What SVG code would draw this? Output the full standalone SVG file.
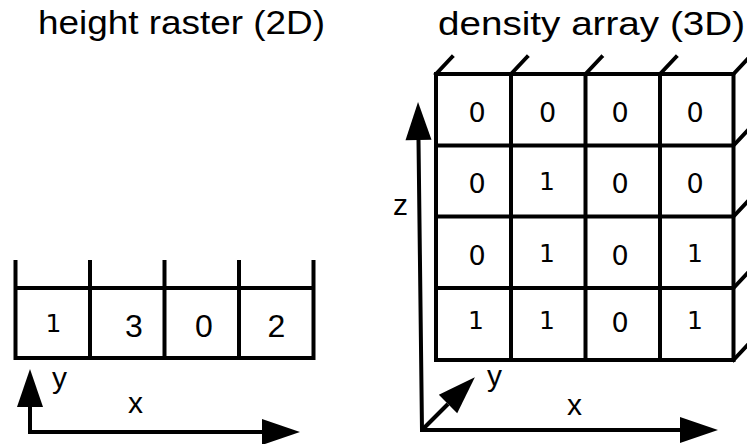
<svg xmlns="http://www.w3.org/2000/svg" width="747" height="444" viewBox="0 0 747 444">
  <style>
    .grid { fill: none; stroke: #000; stroke-width: 4; stroke-linecap: square; }
    .axis { fill: none; stroke: #000; stroke-width: 4; stroke-linejoin: miter; }
    .title { font-family: "Liberation Sans", Arial, sans-serif; font-size: 33px; fill: #000; }
    .lbl { font-family: "Liberation Sans", Arial, sans-serif; font-size: 30px; fill: #000; }
    .num { font-family: "Liberation Sans", Arial, sans-serif; font-size: 32px; fill: #000; text-anchor: middle; }
    .cell { font-family: "DejaVu Sans", sans-serif; font-size: 27px; fill: #000; text-anchor: middle; }
    .one { font-family: "DejaVu Sans", sans-serif; font-size: 25px; fill: #000; text-anchor: middle; }
  </style>
  <defs>
    <marker id="head" markerUnits="userSpaceOnUse" markerWidth="40" markerHeight="28" refX="0" refY="0" viewBox="0 -14 40 28" orient="auto-start-reverse" overflow="visible">
      <path d="M0,-13 L38,0 L0,13 Z" fill="#000"/>
    </marker>
  </defs>
  <rect width="747" height="444" fill="#fff"/>

  <!-- 2D height raster -->
  <g id="height-raster">
    <text class="title" x="38" y="34" textLength="287" lengthAdjust="spacingAndGlyphs">height raster (2D)</text>
    <path class="grid" d="M15.5,262 V358 M90,262 V358 M164.5,262 V358 M239,262 V358 M313.5,262 V358 M15.5,288 H313.5 M15.5,358 H313.5"/>
    <text class="one" x="53.5" y="332">1</text>
    <text class="num" x="134" y="336.5">3</text>
    <text class="num" x="204" y="336.5">0</text>
    <text class="num" x="276.5" y="336.5">2</text>
  </g>

  <!-- 3D density array: front face with receding edges -->
  <g id="density-array">
    <text class="title" x="438" y="35" textLength="307" lengthAdjust="spacingAndGlyphs">density array (3D)</text>
    <path class="grid" d="M436,74 V360 M511,74 V360 M585.5,74 V360 M660,74 V360 M733.5,74 V360 M436,74 H733.5 M436,145.5 H733.5 M436,216.5 H733.5 M436,288 H733.5 M436,360 H733.5"/>
    <path class="grid" stroke-linecap="butt" d="M436,74 l16,-17 M511,74 l16,-17 M585.5,74 l16,-17 M660,74 l16,-17 M733.5,74 l16,-17 M733.5,145.5 l16,-17 M733.5,216.5 l16,-17 M733.5,288 l16,-17 M733.5,360 l16,-17"/>
    <text class="cell" x="477" y="121.5">0</text>
    <text class="cell" x="547.5" y="121.5">0</text>
    <text class="cell" x="620" y="121.5">0</text>
    <text class="cell" x="695" y="121.5">0</text>
    <text class="cell" x="477" y="193">0</text>
    <text class="one" x="547" y="190">1</text>
    <text class="cell" x="620" y="193">0</text>
    <text class="cell" x="695" y="193">0</text>
    <text class="cell" x="477" y="265">0</text>
    <text class="one" x="547" y="262">1</text>
    <text class="cell" x="620" y="265">0</text>
    <text class="one" x="695" y="262">1</text>
    <text class="one" x="476" y="329">1</text>
    <text class="one" x="547" y="329">1</text>
    <text class="cell" x="620" y="331.5">0</text>
    <text class="one" x="695" y="329">1</text>
  </g>

  <!-- coordinate axes -->
  <g id="axes">
    <path class="axis" d="M30,407 L30,432 L262,432" marker-start="url(#head)" marker-end="url(#head)"/>
    <text class="lbl" x="52" y="388">y</text>
    <text class="lbl" x="128" y="413">x</text>
    <path class="axis" d="M418.5,140 L422,430 L680,430" marker-start="url(#head)" marker-end="url(#head)"/>
    <path class="axis" d="M422,430 L448,404" marker-end="url(#head)"/>
    <text class="lbl" x="393" y="215">z</text>
    <text class="lbl" x="487" y="386">y</text>
    <text class="lbl" x="567" y="415">x</text>
  </g>
</svg>
